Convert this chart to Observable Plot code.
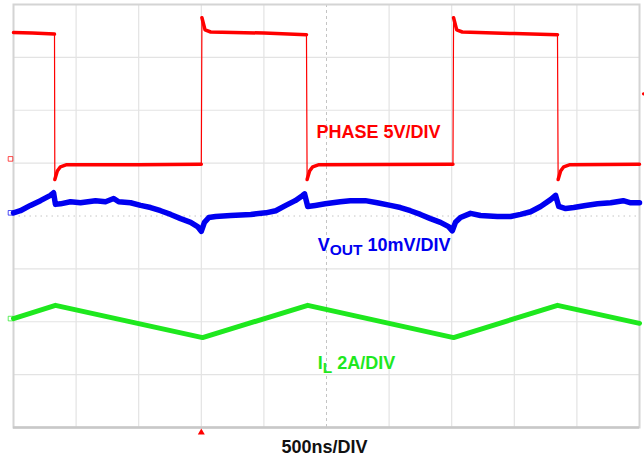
<!DOCTYPE html>
<html><head><meta charset="utf-8">
<script src="https://cdn.jsdelivr.net/npm/d3@7"></script>
<script src="https://cdn.jsdelivr.net/npm/@observablehq/plot@0.6"></script>
<style>html,body{margin:0;padding:0;background:#fff;} #chart svg{display:block;}</style>
</head><body><div id="chart"></div>
<script>
// Time in divisions (500 ns/DIV), amplitude in screen divisions (0 = bottom of screen)
const phaseT   = [0, 0.30, 0.655, 0.66, 0.70, 0.75, 0.85, 2.00, 3.00, 3.01, 3.06, 3.15, 4.00, 4.68, 4.69, 4.73, 4.78, 4.88, 7.02, 7.03, 7.08, 7.17, 8.00, 8.69, 8.70, 8.74, 8.79, 8.89, 10];
const phaseV   = [7.47, 7.46, 7.44, 4.69, 4.85, 4.93, 4.97, 4.97, 4.98, 7.75, 7.52, 7.48, 7.46, 7.43, 4.69, 4.85, 4.93, 4.97, 4.98, 7.75, 7.52, 7.48, 7.45, 7.43, 4.69, 4.85, 4.93, 4.97, 4.98];
const phaseSeg = [0, 0, 0, 1, 1, 1, 1, 1, 1, 2, 2, 2, 2, 2, 3, 3, 3, 3, 3, 4, 4, 4, 4, 4, 5, 5, 5, 5, 5];

const voutT = [0, 0.11, 0.27, 0.43, 0.59, 0.64, 0.67, 0.75, 0.91, 1.07, 1.31, 1.47, 1.60, 1.68, 1.87, 2.03, 2.19, 2.35, 2.51, 2.67, 2.83, 2.94, 3.00, 3.05, 3.12, 3.23, 3.47, 3.79, 4.03, 4.19, 4.35, 4.50, 4.62, 4.65, 4.70, 4.82, 4.98, 5.22, 5.38, 5.62, 5.81, 6.02, 6.18, 6.34, 6.50, 6.66, 6.82, 6.95, 7.01, 7.06, 7.14, 7.30, 7.46, 7.73, 7.94, 8.10, 8.26, 8.42, 8.58, 8.66, 8.71, 8.82, 8.95, 9.14, 9.33, 9.54, 9.74, 9.86, 10];
const voutV = [4.06, 4.10, 4.20, 4.29, 4.39, 4.44, 4.22, 4.23, 4.27, 4.25, 4.29, 4.27, 4.33, 4.27, 4.25, 4.20, 4.16, 4.10, 4.03, 3.95, 3.88, 3.80, 3.71, 3.88, 3.97, 3.99, 4.01, 4.03, 4.06, 4.10, 4.20, 4.29, 4.39, 4.42, 4.18, 4.20, 4.23, 4.27, 4.29, 4.29, 4.25, 4.20, 4.16, 4.10, 4.03, 3.95, 3.88, 3.80, 3.72, 3.88, 3.97, 4.05, 4.01, 3.99, 3.99, 4.03, 4.08, 4.18, 4.31, 4.39, 4.18, 4.14, 4.16, 4.20, 4.23, 4.25, 4.29, 4.25, 4.25];

const ilT = [0, 0.67, 3.02, 4.70, 7.03, 8.69, 10];
const ilV = [2.06, 2.31, 1.70, 2.31, 1.70, 2.31, 1.97];

// Channel reference markers (left edge) and trigger markers
const markerCh = ["PHASE", "VOUT", "IL"];
const markerV  = [5.08, 4.06, 2.06];
const trigLevel = 6.31;
const trigTime  = 3.0;

const labels  = ["PHASE 5V/DIV", "V_OUT 10mV/DIV", "I_L 2A/DIV"];
const labelT  = [4.84, 4.86, 4.86];
const labelV  = [5.48, 3.33, 1.10];
const timeLabel = "500ns/DIV";

const colors = {PHASE: "#ff0000", VOUT: "#0000f0", IL: "#1ee81e"};

const phase = phaseT.map((t, i) => ({t, v: phaseV[i], seg: phaseSeg[i]}));
const vout = voutT.map((t, i) => ({t, v: voutV[i]}));
const il = ilT.map((t, i) => ({t, v: ilV[i]}));
const markers = markerCh.map((c, i) => ({c, v: markerV[i]}));
const labelData = labels.map((s, i) => ({s, t: labelT[i], v: labelV[i], c: markerCh[i]}));

const chart = Plot.plot({
  width: 644, height: 462,
  marginLeft: 13, marginRight: 5, marginTop: 4, marginBottom: 35,
  x: {domain: [0, 10], axis: null},
  y: {domain: [0, 8], axis: null},
  style: {fontFamily: "'Liberation Sans', Arial, sans-serif", background: "#fff", overflow: "visible"},
  marks: [
    Plot.ruleX(d3.range(1, 10).filter(d => d !== 5), {stroke: "#e3e3e3", strokeWidth: 1.2}),
    Plot.ruleY(d3.range(1, 8).filter(d => d !== 4), {stroke: "#e3e3e3", strokeWidth: 1.2}),
    Plot.ruleX([5], {stroke: "#c4c4c4", strokeWidth: 1, strokeDasharray: "3,3"}),
    Plot.ruleY([4], {stroke: "#c4c4c4", strokeWidth: 1, strokeDasharray: "1.5,4"}),
    Plot.frame({stroke: "#d4d4d4", strokeWidth: 2}),
    Plot.ruleY([0], {stroke: "#c8c8c8", strokeWidth: 2.5}),
    // traces
    Plot.line(il, {x: "t", y: "v", stroke: colors.IL, strokeWidth: 5}),
    Plot.line(vout, {x: "t", y: "v", stroke: colors.VOUT, strokeWidth: 5.5, strokeLinejoin: "round"}),
    Plot.line(phase, {x: "t", y: "v", stroke: colors.PHASE, strokeWidth: 1.2}),
    Plot.line(phase, {x: "t", y: "v", z: "seg", stroke: colors.PHASE, strokeWidth: 3.5}),
    // markers
    Plot.dot(markers, {x: 0, y: "v", dx: -3, symbol: "square", r: 2.6, stroke: d => colors[d.c], fill: "none", strokeWidth: 1, strokeOpacity: 0.7}),
    Plot.dot([trigLevel], {x: 10, y: d => d, dx: 4, r: 1.6, fill: colors.PHASE, stroke: "none"}),
    Plot.dot([trigTime], {x: d => d, y: 0, dy: 5, symbol: "triangle", r: 2.6, fill: colors.PHASE, stroke: "none"}),
    // labels
    Plot.text(labelData, {x: "t", y: "v", text: "s", textAnchor: "start", lineAnchor: "bottom", fill: d => colors[d.c], fontSize: 18, fontWeight: "bold"}),
    Plot.text([timeLabel], {frameAnchor: "bottom", text: d => d, dx: -2, dy: 25, lineAnchor: "bottom", fontSize: 18, fontWeight: "bold", fill: "#111"})
  ]
});

// subscripts (V_OUT, I_L)
d3.select(chart).selectAll("text").each(function() {
  const s = this.textContent;
  const m = s.match(/^(\w)_(\w+)(.*)$/);
  if (!m) return;
  const el = d3.select(this);
  el.text(null);
  el.append("tspan").text(m[1]);
  el.append("tspan").attr("dy", 4).attr("font-size", 15.5).text(m[2]);
  el.append("tspan").attr("dy", -4).text(m[3]);
});

document.getElementById("chart").append(chart);
</script>
</body></html>
